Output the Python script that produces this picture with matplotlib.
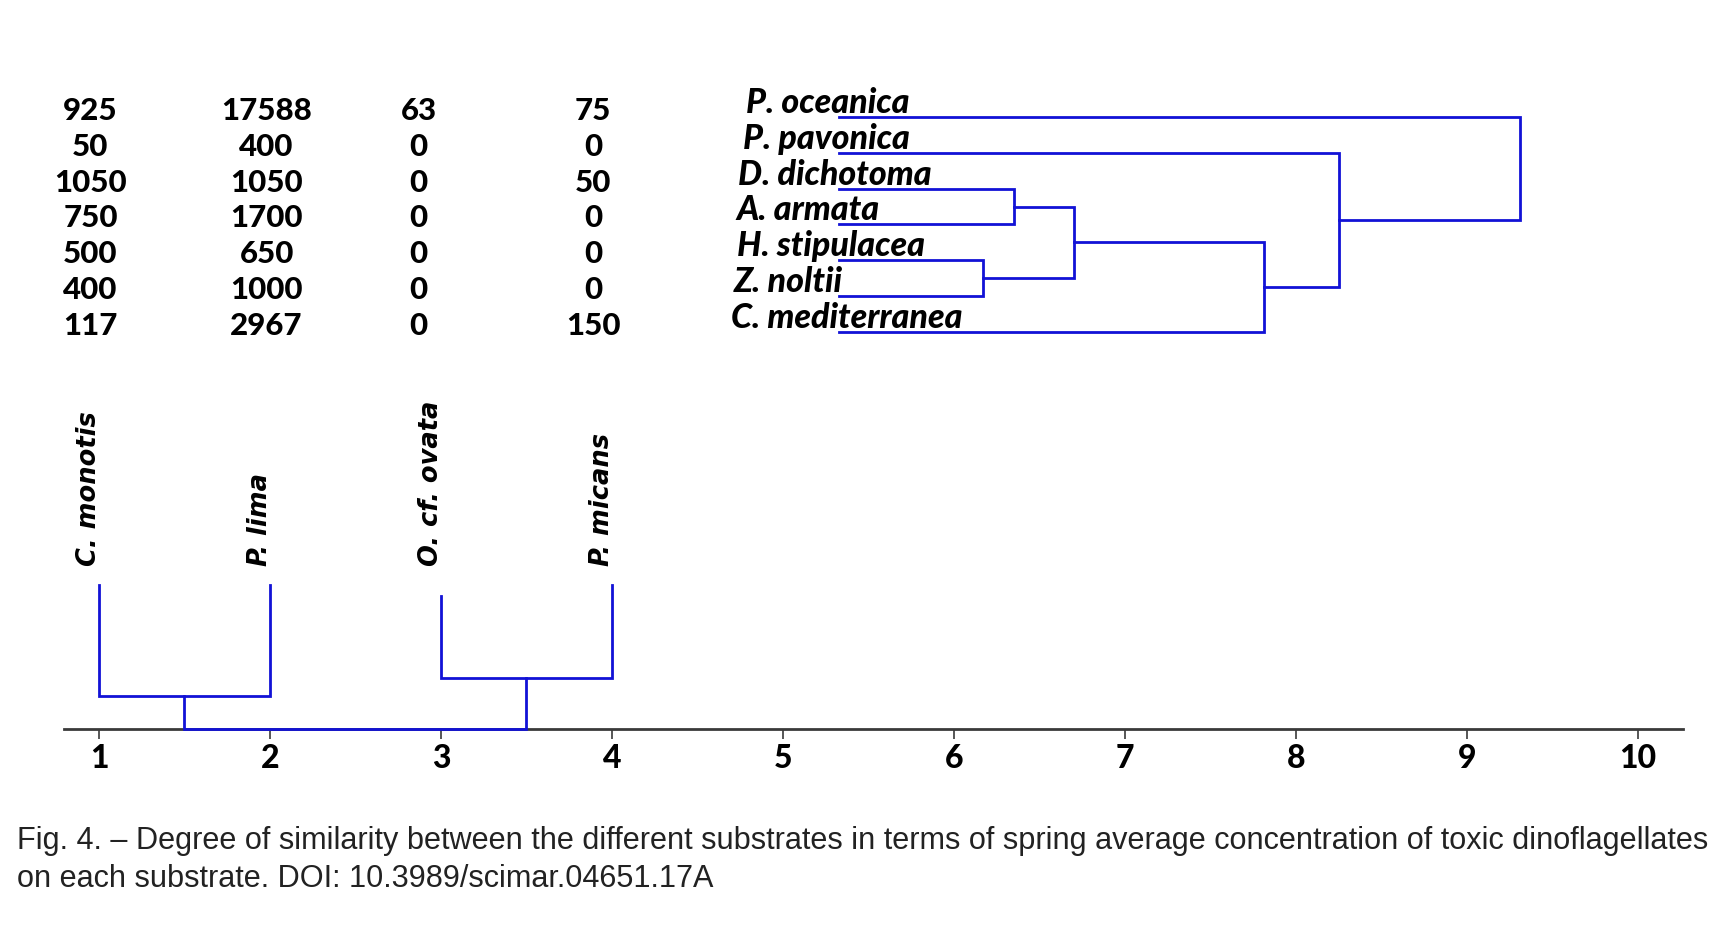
import matplotlib
matplotlib.use("Agg")
import matplotlib.pyplot as plt

# concentration table (rows = substrates, columns = dinoflagellates)
substrates = ["P. oceanica", "P. pavonica", "D. dichotoma", "A. armata",
              "H. stipulacea", "Z. noltii", "C. mediterranea"]
c_monotis = [925, 50, 1050, 750, 500, 400, 117]
p_lima = [17588, 400, 1050, 1700, 650, 1000, 2967]
o_ovata = [63, 0, 0, 0, 0, 0, 0]
p_micans = [75, 0, 50, 0, 0, 0, 150]
species = ["C. monotis", "P. lima", "O. cf. ovata", "P. micans"]

# substrate dendrogram: (node a, node b, distance); nodes >= 7 are merged clusters
sub_leaf_dist = 5.33
sub_links = [(2, 3, 6.35), (4, 5, 6.17), (7, 8, 6.70), (9, 6, 7.81),
             (1, 10, 8.25), (0, 11, 9.31)]

# species dendrogram (heights above the axis)
sp_leaf_height = [144, 144, 133, 144]
sp_links = [(0, 1, 33), (2, 3, 51), (4, 5, 0)]

ticks = list(range(1, 11))
caption = ["Fig. 4. \u2013 Degree of similarity between the different substrates in terms of spring average concentration of toxic dinoflagellates",
           "on each substrate. DOI: 10.3989/scimar.04651.17A"]

BLUE = "#1212d6"
W, H = 1732, 928
AXIS_Y = 730
fig = plt.figure(figsize=(W / 100, H / 100), dpi=100)
ax = fig.add_axes([64 / W, (H - AXIS_Y) / H, (1683 - 64) / W, (AXIS_Y - 60) / H])
px = 171.0
ax.set_xlim(1 - (99 - 64) / px, 1 + (1683 - 99) / px)
ax.set_ylim(0, AXIS_Y - 60)
for s in ("left", "top", "right"):
    ax.spines[s].set_visible(False)
ax.spines["bottom"].set_linewidth(2)
ax.spines["bottom"].set_color("#3a3a3a")
ax.set_yticks([])
ax.set_xticks(ticks)
ax.tick_params(axis="x", length=7, width=1.2, color="#3a3a3a", pad=3)
for lab in ax.get_xticklabels():
    lab.set_fontfamily("Lato")
    lab.set_fontweight("black")
    lab.set_fontsize(23)

# ---- substrate dendrogram (horizontal) ----
row_y = [612 - 35.8 * i for i in range(len(substrates))]
pos = list(row_y)
dist = [sub_leaf_dist] * len(substrates)
for a, b, d in sub_links:
    ax.plot([dist[a], d, d, dist[b]], [pos[a], pos[a], pos[b], pos[b]],
            color=BLUE, lw=2.0, solid_joinstyle="miter", zorder=3)
    pos.append((pos[a] + pos[b]) / 2)
    dist.append(d)

# labels drift slightly left going down, as in the original composite
label_px = [746, 743, 738, 736, 737, 734, 731]
for y, xp, name in zip(row_y, label_px, substrates):
    ax.text(1 + (xp - 99) / px, y + 5, name, fontfamily="Lato", fontweight="black",
            fontstyle="italic", fontsize=24.5, va="baseline", ha="left", zorder=2)

# ---- table of concentrations ----
col_off = [-0.05, -0.02, -0.13, -0.11]
for j, col in enumerate([c_monotis, p_lima, o_ovata, p_micans]):
    for y, v in zip(row_y, col):
        ax.text(j + 1 + col_off[j], y + 7, str(v), fontfamily="Lato",
                fontweight="black", fontsize=22.5, ha="center", va="center")

# ---- species dendrogram (vertical) ----
xs = [i + 1 for i in range(len(species))]
hs = list(sp_leaf_height)
for a, b, h in sp_links:
    ax.plot([xs[a], xs[a], xs[b], xs[b]], [hs[a], h, h, hs[b]],
            color=BLUE, lw=2.0, solid_joinstyle="miter", zorder=3, clip_on=False)
    xs.append((xs[a] + xs[b]) / 2)
    hs.append(h)

for i, name in enumerate(species):
    ax.text(i + 1 - 0.06, 164, name, rotation=90, fontfamily="DejaVu Sans",
            fontweight="bold", fontstyle="italic", fontsize=18.5,
            ha="center", va="bottom")

# ---- caption ----
for k, line in enumerate(caption):
    fig.text(17 / W, 1 - (841 + 38 * k) / H, line, fontfamily="Liberation Sans",
             fontsize=22.05, color="#222222", va="center", ha="left")

fig.savefig("out.png", dpi=100, facecolor="white")
